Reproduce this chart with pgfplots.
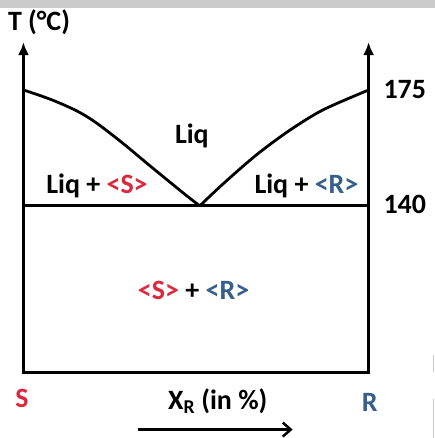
\documentclass[border=0pt]{standalone}
\usepackage{pgfplots}
\pgfplotsset{compat=1.18}
\usepackage{fontspec}
\setmainfont{Carlito}
\usetikzlibrary{arrows.meta}

\definecolor{sred}{RGB}{218,41,60}
\definecolor{rblue}{RGB}{55,95,140}
\definecolor{band}{RGB}{203,203,203}
\newcommand{\lbl}{\bfseries\fontsize{28}{30}\selectfont}

\begin{document}
\begin{tikzpicture}
  \begin{axis}[
      scale only axis,
      width=435pt, height=438pt,
      xmin=-6.8, xmax=119.1,
      ymin=70.0, ymax=202.2,
      hide axis, clip=false,
    ]
    % frame corners (keeps the page size)
    \addplot[draw=none, forget plot] coordinates {(-6.8,70.0) (119.1,202.2)};
    % grey band at the top
    \addplot[fill=band, draw=none] coordinates {
      (-6.8,199.8) (119.1,199.8) (119.1,202.2) (-6.8,202.2)} -- cycle;
    % faint marks at right edge
    \addplot[black!20, line width=1pt] coordinates {(118.8,95.0) (118.8,89.9)};
    \addplot[black!20, line width=1pt] coordinates {(118.8,81.5) (118.8,70.0)};

    % axes and box
    \addplot[line width=2.8pt, {Latex[length=13pt,width=11pt]}-{Latex[length=13pt,width=11pt]}]
      coordinates {(0,189.5) (0,89.6) (100,89.6) (100,189.5)};
    % eutectic line
    \addplot[line width=2.8pt] coordinates {(0,140) (100,140)};
    % liquidus S
    \addplot[line width=2.8pt, smooth, tension=0.6] coordinates {
      (0,175) (9,171.7) (18,167.2) (27,160.4) (37,151.8) (47,143.3) (51.1,140)};
    % liquidus R
    \addplot[line width=2.8pt, smooth, tension=0.5] coordinates {
      (51.1,140) (57.8,146.6) (67.5,155.4) (77.1,162.8) (86.8,169.0) (100,175)};
    % x arrow
    \addplot[line width=2.5pt, -{Straight Barb[length=8pt,width=14pt]}]
      coordinates {(33.1,72.4) (78.0,72.4)};

    \node[font=\lbl] at (axis cs:4.5,195.5) {T (°C)};
    \node[font=\lbl, anchor=west] at (axis cs:103.3,175) {175};
    \node[font=\lbl, anchor=west] at (axis cs:103.3,140.3) {140};
    \node[font=\lbl] at (axis cs:48.8,161.1) {Liq};
    \node[font=\lbl] at (axis cs:21.3,146.0) {Liq + \textcolor{sred}{<S>}};
    \node[font=\lbl] at (axis cs:82.0,146.0) {Liq + \textcolor{rblue}{<R>}};
    \node[font=\lbl] at (axis cs:49.3,114.4) {\textcolor{sred}{<S>} + \textcolor{rblue}{<R>}};
    \node[font=\lbl, text=sred] at (axis cs:-0.4,81.8) {S};
    \node[font=\lbl, text=rblue] at (axis cs:100.3,80.6) {R};
    \node[font=\lbl] at (axis cs:56.3,80.9) {X\textsubscript{R} (in \%)};
  \end{axis}
\end{tikzpicture}
\end{document}
